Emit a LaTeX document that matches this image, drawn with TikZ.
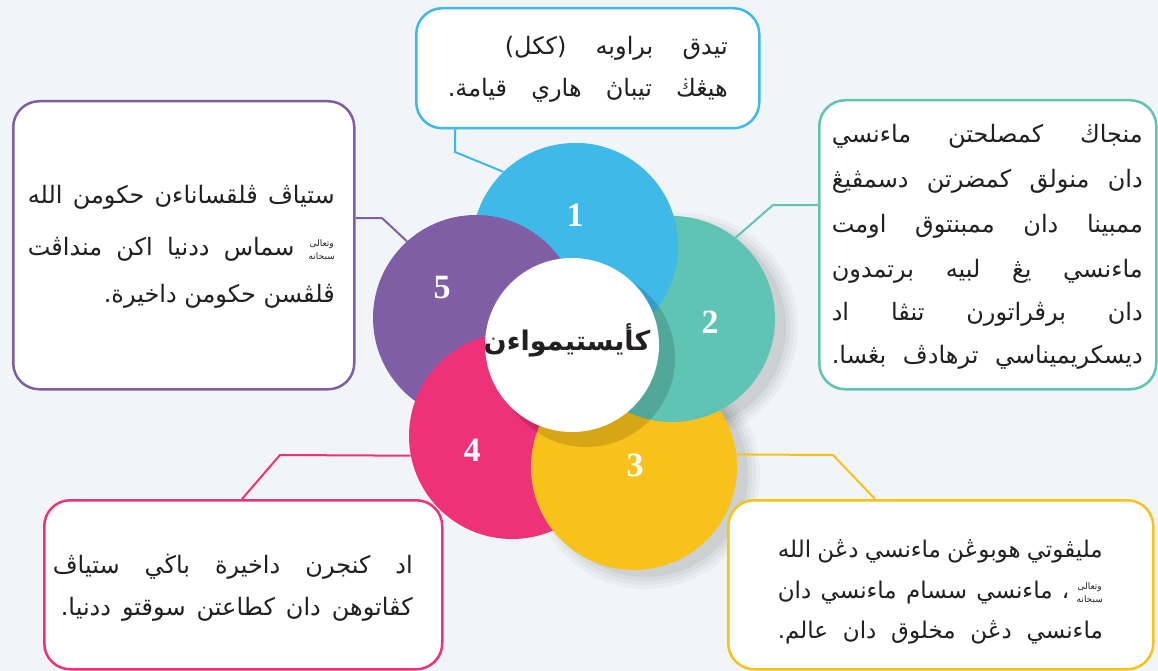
\documentclass[tikz,border=0pt]{standalone}
\usepackage{fontspec}
\setmainfont{Liberation Serif}
\newfontfamily\arabicfont[Script=Arabic]{DejaVu Sans}
\TeXXeTstate=1
\definecolor{bgc}{HTML}{F1F5F8}
\definecolor{cblue}{HTML}{3EB9E8}
\definecolor{cteal}{HTML}{5FC4B4}
\definecolor{cyel}{HTML}{F9C21A}
\definecolor{cpink}{HTML}{EE3279}
\definecolor{cpurp}{HTML}{7F5EA6}
\definecolor{ink}{HTML}{231F20}
\newcommand\jl[2]{\hbox to #1{\beginR #2\endR}}
\newcommand\rl[1]{\beginR #1\endR}
\newcommand\swt{\raisebox{-4pt}{\fontsize{9}{9.5}\selectfont\shortstack{\rl{وتعالى}\\\rl{سبحانه}}}}
\begin{document}
\begin{tikzpicture}[x=1pt,y=-1pt,
  petal/.style={circle,inner sep=0pt,minimum size=206pt},
  box/.style={draw,line width=2.5pt,fill=white,rounded corners=26pt,anchor=north west,inner sep=0pt},
  link/.style={line width=2pt},
  num/.style={text=white,font=\fontsize{34}{34}\selectfont\bfseries},
  jtxt/.style={anchor=base east,inner sep=0pt,text=ink,font=\arabicfont\fontsize{24}{28}\selectfont},
  jsm/.style={jtxt,font=\arabicfont\fontsize{23}{27}\selectfont}]
\useasboundingbox (0,0) rectangle (1158,671);
\fill[bgc] (0,0) rectangle (1158,671);

% soft shadows on background
\foreach \r/\o in {114/0.03,110/0.03,106/0.04,102/0.05}{
  \fill[black,opacity=\o] (684,327) circle (\r pt);
  \fill[black,opacity=\o] (646,475) circle (\r pt);
}

% petals
\node[petal,fill=cblue] (c1) at (575,246) {};
\node[petal,fill=cpurp] (c5) at (476,318) {};
\node[petal,fill=cpink] (c4) at (512,436) {};
\node[petal,fill=cyel] (c3) at (634,467) {};
\node[petal,fill=cteal] (c2) at (672,319) {};
\begin{scope}
  \clip (575,100) rectangle (800,400);
  \fill[cblue] (c1.center) circle (103pt);
\end{scope}

% shadow of centre
\fill[black,opacity=0.14] (586,358) circle (89pt);
\node[circle,fill=white,inner sep=0pt,minimum size=174pt] (ctr) at (572,345) {};
\node[anchor=base,inner sep=0pt,text=ink,font=\arabicfont\bfseries\fontsize{27}{27}\selectfont] (ctt) at (567,350) {\rl{كأيستيمواءن}};

% numbers
\node[num] (n1) at (575,215) {1};
\node[num] (n2) at (710,322) {2};
\node[num] (n3) at (635,465) {3};
\node[num] (n4) at (472,450) {4};
\node[num] (n5) at (442,288) {5};

% boxes
\node[box,draw=cblue,minimum width=343pt,minimum height=120pt] (b1) at (415,7) {};
\node[box,draw=cteal,minimum width=337pt,minimum height=289pt] (b2) at (818,99) {};
\node[box,draw=cpurp,minimum width=341pt,minimum height=288pt] (b5) at (12,100) {};
\node[box,draw=cpink,minimum width=398pt,minimum height=169pt] (b4) at (43,499) {};
\node[box,draw=cyel,minimum width=425pt,minimum height=169pt] (b3) at (727,499) {};

% connector bends
\coordinate (k1) at (455,152);
\coordinate (k2) at (773,205);
\coordinate (k5) at (382,218);
\coordinate (k4) at (280,455);
\coordinate (k4x) at (242,499);
\coordinate (k3) at (833,455);
\coordinate (k3x) at (875,499);

\draw[link,cblue] (b1.south -| k1) -- (k1) -- (c1.134);
\draw[link,cteal] (b2.west |- k2) -- (k2) -- (c2.52);
\draw[link,cpurp] (b5.east |- k5) -- (k5) -- (c5.132);
\draw[link,cpink] (b4.north -| k4x) -- (k4) -- (c4.191);
\draw[link,cyel] (b3.north -| k3x) -- (k3) -- (c3.7);

% box 1 text
\node[jtxt] (t11) at (728,55) {\jl{223pt}{تيدق \hfill براوبه \hfill (ككل)}};
\node[jtxt] (t12) at (728,97) {\jl{280pt}{هيڠڬ \hfill تيباڽ \hfill هاري \hfill قيامة.}};

% box 2 text
\node[jtxt] (t21) at (1143,143) {\jl{311pt}{منجاڬ \hfill كمصلحتن \hfill ماءنسي}};
\node[jtxt] (t22) at (1143,187) {\jl{311pt}{دان \hfill منولق \hfill كمضرتن \hfill دسمڤيڠ}};
\node[jtxt] (t23) at (1143,232) {\jl{311pt}{ممبينا \hfill دان \hfill ممبنتوق \hfill اومت}};
\node[jtxt] (t24) at (1143,277) {\jl{311pt}{ماءنسي \hfill يڠ \hfill لبيه \hfill برتمدون}};
\node[jtxt] (t25) at (1143,320) {\jl{311pt}{دان \hfill برڤراتورن \hfill تنڤا \hfill اد}};
\node[jtxt] (t26) at (1143,363) {\jl{311pt}{ديسكريميناسي \hfill ترهادڤ \hfill بڠسا.}};

% box 5 text
\node[jtxt] (t51) at (335,203) {\jl{307pt}{ستياڤ \hfill ڤلقساناءن \hfill حكومن \hfill الله}};
\node[jtxt] (t52) at (335,255) {\jl{307pt}{\swt\ \hfill سماس \hfill ددنيا \hfill اكن \hfill منداڤت}};
\node[jtxt] (t53) at (335,302) {\rl{ڤلڤسن حكومن داخيرة.}};

% box 4 text
\node[jtxt] (t41) at (413,573) {\jl{360pt}{اد \hfill كنجرن \hfill داخيرة \hfill باڬي \hfill ستياڤ}};
\node[jtxt] (t42) at (413,615) {\jl{352pt}{كڤاتوهن \hfill دان \hfill كطاعتن \hfill سوقتو \hfill ددنيا.}};

% box 3 text
\node[jsm] (t31) at (1103,557) {\jl{325pt}{مليڤوتي \hfill هوبوڠن \hfill ماءنسي \hfill دڠن \hfill الله}};
\node[jsm] (t32) at (1103,598) {\jl{325pt}{\swt\ ، \hfill ماءنسي \hfill سسام \hfill ماءنسي \hfill دان}};
\node[jsm] (t33) at (1103,638) {\jl{325pt}{ماءنسي \hfill دڠن \hfill مخلوق \hfill دان \hfill عالم.}};
\end{tikzpicture}
\end{document}
